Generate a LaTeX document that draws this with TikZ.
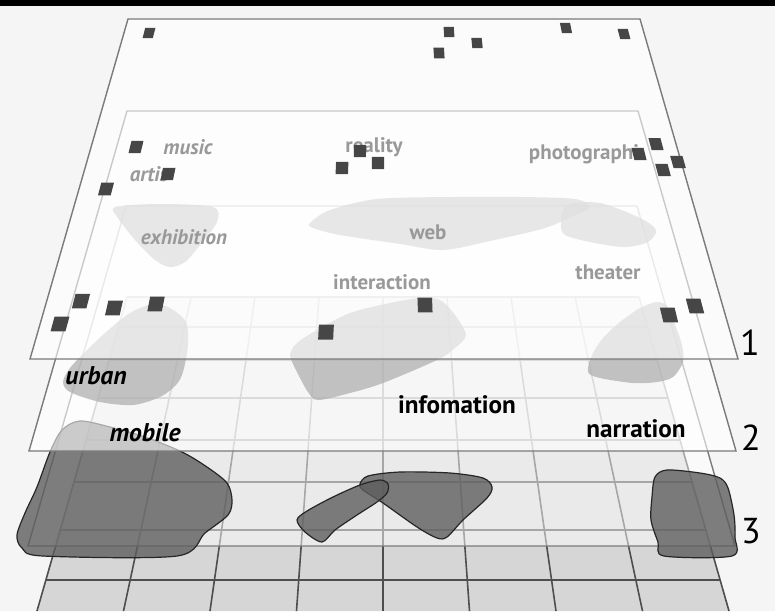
\documentclass[tikz,border=0pt]{standalone}
\usepackage{fontspec}
\setmainfont{PT Sans}
\definecolor{bggray}{HTML}{F5F5F5}
\definecolor{floorgray}{HTML}{D6D6D6}
\definecolor{floorline}{HTML}{4E4E4E}
\definecolor{edgegray}{HTML}{7A7A7A}
\definecolor{blobgray}{HTML}{B0B0B0}
\definecolor{darkblob}{HTML}{5E5E5E}
\definecolor{squaregray}{HTML}{464646}

\begin{document}
\begin{tikzpicture}[x=0.5pt,y=-0.5pt,
  sheet/.style={fill=white, fill opacity=#1, draw=edgegray, line width=0.7pt},
  softblob/.style={fill=blobgray, fill opacity=0.75},
  hardblob/.style={fill=darkblob, fill opacity=0.8, draw=black!85, line width=0.6pt},
  tag/.style={font=\fontsize{10.5}{12}\selectfont\bfseries},
  slanttag/.style={font=\fontsize{10.5}{12}\selectfont\bfseries\itshape},
  bigtag/.style={font=\fontsize{12.6}{14}\selectfont\bfseries},
  bigslant/.style={font=\fontsize{12.8}{14}\selectfont\bfseries\itshape},
  levelno/.style={font=\fontsize{18}{20}\selectfont}]
\useasboundingbox (0,0) rectangle (775,611);
\fill[bggray] (0,0) rectangle (775,611);

% floor grid
\fill[floorgray] (127,297) -- (639,297) -- (729,611) -- (37,611) -- cycle;
\foreach \i in {-4,...,4}
  \draw[floorline, line width=0.8pt] ({383+64*\i},297) -- ({383+86.5*\i},611);
\foreach \yy in {297,327,360,398,440,482,530,580} {
  \pgfmathsetmacro\ss{64+0.07166*(\yy-297)}
  \draw[floorline, line width=0.8pt] ({383-4*\ss},\yy) -- ({383+4*\ss},\yy);
}

% level 3
\draw[sheet=0.5] (126,206) -- (637,206) -- (735,546) -- (28,546) -- cycle;
\draw[hardblob] plot[smooth cycle, tension=0.5] coordinates {(80,421) (110,427) (145,437) (182,452) (207,467) (227,483) (232,500) (228,515) (205,533) (177,556) (43,556) (22,548) (17,535) (25,513) (37,487) (50,452) (62,430)};
\draw[hardblob] plot[smooth cycle, tension=0.5] coordinates {(360,484) (368,476) (400,472) (450,473) (483,478) (492,487) (487,498) (463,520) (447,537) (437,538) (417,527) (383,503) (363,490)};
\draw[hardblob] plot[smooth cycle, tension=0.5] coordinates {(297,520) (307,511) (333,497) (360,485) (380,480) (388,484) (387,493) (377,502) (357,515) (335,530) (322,542) (305,532)};
\draw[hardblob] plot[smooth cycle, tension=0.5] coordinates {(655,477) (667,470) (700,473) (720,478) (728,488) (734,515) (735,537) (732,556) (664,556) (658,542) (651,520) (652,497)};

% level 2
\draw[sheet=0.6] (127,111) -- (638,111) -- (736,451) -- (29,451) -- cycle;
\fill[softblob] plot[smooth cycle, tension=0.5] coordinates {(115,207) (160,204) (213,207) (217,222) (200,245) (185,262) (170,267) (155,260) (135,240) (118,218)};
\fill[softblob] plot[smooth cycle, tension=0.5] coordinates {(310,223) (330,210) (377,199) (450,197) (520,197) (575,199) (590,207) (575,215) (545,228) (490,241) (443,250) (400,244) (340,235) (313,228)};
\fill[softblob] plot[smooth cycle, tension=0.5] coordinates {(567,205) (600,203) (640,218) (656,230) (648,242) (625,247) (595,243) (565,235) (561,222)};
\fill[softblob] plot[smooth cycle, tension=0.5] coordinates {(153,304) (170,308) (186,322) (188,345) (183,372) (176,385) (160,397) (133,405) (100,402) (70,392) (63,382) (70,368) (85,352) (105,333) (130,313)};
\fill[softblob] plot[smooth cycle, tension=0.5] coordinates {(290,355) (297,343) (317,330) (350,313) (390,303) (420,298) (440,300) (455,315) (466,335) (455,348) (437,360) (383,383) (350,393) (318,400) (308,392) (297,372)};
\fill[softblob] plot[smooth cycle, tension=0.5] coordinates {(657,302) (667,306) (674,322) (682,345) (683,362) (673,377) (657,382) (633,383) (600,378) (588,372) (592,355) (603,338) (620,322) (640,308)};

\node[slanttag] (music) at (188,147) {music};
\node[slanttag] (artist) at (149,174) {artis};
\node[tag] (reality) at (374,147) {reality};
\node[tag] (photo) at (584,154) {photographi};
\node[slanttag] (exhibition) at (184,237) {exhibition};
\node[tag] (web) at (428,232) {web};
\node[tag] (interaction) at (382,282) {interaction};
\node[tag] (theater) at (608,272) {theater};
\node[bigslant] (urban) at (96,376) {urban};
\node[bigslant] (mobile) at (145,433) {mobile};
\node[bigtag] (infomation) at (457,405) {infomation};
\node[bigtag] (narration) at (636,429) {narration};

% level 1
\draw[sheet=0.6] (128,19) -- (640,19) -- (738,359) -- (30,359) -- cycle;
\foreach \cx/\cy in {149/33, 449/32, 439/53, 477/43, 566/28, 624/34,
    136/147, 168/174, 106/189, 360/151, 342/168, 378/163,
    639/154, 656/144, 663/170, 678/162,
    81/301, 60/324, 114/308, 156/304, 326/332, 425/305, 669/315, 695/306} {
  \pgfmathsetmacro\w{10+0.016*(\cy-19)}
  \pgfmathsetmacro\sl{(384-\cx)/(\cy+869)*\w/2}
  \fill[squaregray] ({\cx-\w/2-\sl},{\cy+\w/2}) -- ({\cx+\w/2-\sl},{\cy+\w/2})
    -- ({\cx+\w/2+\sl},{\cy-\w/2}) -- ({\cx-\w/2+\sl},{\cy-\w/2}) -- cycle;
}

\node[levelno] (one) at (750,343) {1};
\node[levelno] (two) at (751,438) {2};
\node[levelno] (three) at (751,531) {3};

\fill[black] (0,0) rectangle (775,6);
\end{tikzpicture}
\end{document}
